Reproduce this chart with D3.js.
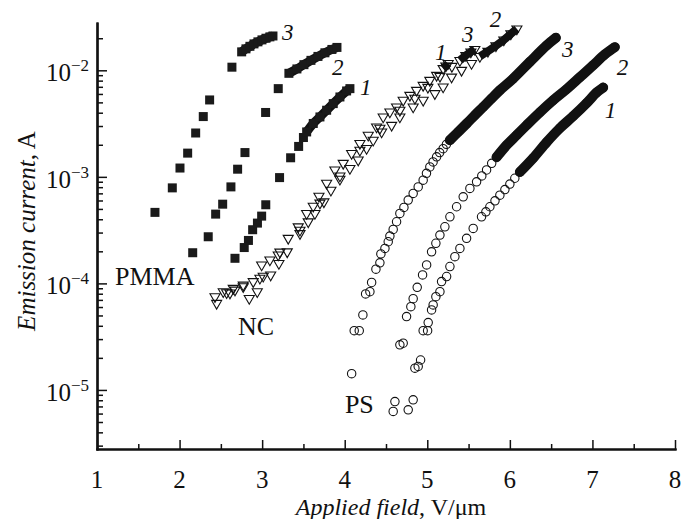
<!DOCTYPE html>
<html><head><meta charset="utf-8">
<script src="https://cdn.jsdelivr.net/npm/d3@7"></script>
<style>body{margin:0;background:#fff}svg{display:block}</style>
</head><body>
<svg id="c" width="681" height="519"></svg>
<script>
// ---------- data ----------
const xTickValues = [1,2,3,4,5,6,7,8];
const xMinorValues = [1.5,2.5,3.5,4.5,5.5,6.5,7.5];
const yMajorValues = [1e-5,1e-4,1e-3,1e-2];
const yExponents = ["5","4","3","2"];
const xTitle = ["Applied field", ", V/\u03bcm"];
const yTitle = ["Emission current", ", A"];

// PMMA (filled squares)
const pmma3Pts = [[1.702,4.64e-4],[1.912,7.88e-4],[2.005,1.21e-3],[2.098,1.67e-3],[2.195,2.58e-3],[2.287,3.68e-3],[2.364,5.27e-3],[2.634,1.07e-2]];
const pmma3Band = [[2.752,1.49e-2],[2.804,1.59e-2],[2.852,1.68e-2],[2.901,1.77e-2],[2.949,1.85e-2],[2.998,1.93e-2],[3.046,2.00e-2],[3.094,2.06e-2],[3.131,2.10e-2]];
const pmma2Pts = [[2.159,1.94e-4],[2.347,2.74e-4],[2.437,4.47e-4],[2.522,5.54e-4],[2.622,8.05e-4],[2.703,1.18e-3],[2.792,1.69e-3],[3.042,4.02e-3],[3.195,6.73e-3]];
const pmma2Band = [[3.324,9.37e-3],[3.421,1.03e-2],[3.506,1.13e-2],[3.591,1.24e-2],[3.676,1.35e-2],[3.760,1.46e-2],[3.845,1.57e-2],[3.906,1.64e-2]];
const pmma1Pts = [[2.671,1.72e-4],[2.783,2.17e-4],[2.834,2.53e-4],[2.885,3.19e-4],[2.943,3.68e-4],[2.994,4.28e-4],[3.044,5.47e-4],[3.211,9.84e-4],[3.345,1.51e-3],[3.442,1.93e-3],[3.500,2.34e-3]];
const pmma1Band = [[3.539,2.64e-3],[3.619,3.17e-3],[3.700,3.65e-3],[3.781,4.22e-3],[3.861,4.87e-3],[3.942,5.62e-3],[4.023,6.40e-3],[4.063,6.73e-3]];

// NC (open down-triangles)
const nc1Pts = [[2.429,7.50e-5],[2.529,8.36e-5],[2.650,8.99e-5],[2.771,9.66e-5],[2.892,1.04e-4],[2.994,1.49e-4],[3.094,1.66e-4],[3.195,1.85e-4],[3.316,2.65e-4],[3.437,3.40e-4],[3.539,4.54e-4],[3.619,5.31e-4],[3.688,6.59e-4],[3.781,8.73e-4],[3.881,1.16e-3],[3.982,1.34e-3],[4.084,1.66e-3],[4.184,2.06e-3],[4.285,2.46e-3],[4.386,2.94e-3],[4.466,3.65e-3],[4.547,4.07e-3],[4.628,4.53e-3],[4.708,5.24e-3],[4.789,5.83e-3],[4.870,6.50e-3],[4.950,7.23e-3],[5.031,8.06e-3],[5.113,8.98e-3]];
const nc1Band = [[5.192,1.04e-2],[5.225,1.10e-2],[5.253,1.16e-2]];
const nc2Pts = [[2.449,6.50e-5],[2.570,8.18e-5],[2.671,8.67e-5],[2.771,9.31e-5],[2.844,7.24e-5],[2.941,8.36e-5],[3.013,1.17e-4],[3.103,1.20e-4],[3.203,1.54e-4],[3.304,1.98e-4],[3.458,2.94e-4],[3.558,3.79e-4],[3.639,4.54e-4],[3.748,5.83e-4],[3.833,7.50e-4],[3.942,9.51e-4],[4.063,1.20e-3],[4.163,1.44e-3],[4.265,1.85e-3],[4.345,2.21e-3],[4.447,2.64e-3],[4.568,3.05e-3],[4.668,3.65e-3],[4.829,4.53e-3],[4.950,5.24e-3],[5.092,6.05e-3],[5.192,6.98e-3],[5.294,8.65e-3],[5.415,1.00e-2],[5.536,1.16e-2]];
const nc2Band = [[5.637,1.35e-2],[5.734,1.51e-2],[5.831,1.70e-2],[5.927,1.93e-2],[6.012,2.20e-2],[6.085,2.45e-2]];
const nc3Pts = [[2.610,8.13e-5],[2.973,1.12e-4],[3.215,1.97e-4],[3.458,3.16e-4],[3.700,5.68e-4],[3.942,1.02e-3],[4.184,1.78e-3],[4.426,2.86e-3],[4.668,4.22e-3],[4.850,5.47e-3],[5.007,6.93e-3],[5.153,8.79e-3],[5.298,1.09e-2]];
const nc3Band = [[5.395,1.24e-2],[5.467,1.38e-2],[5.528,1.49e-2],[5.576,1.57e-2]];

// PS (open circles)
const ps3Pts = [[4.084,1.42e-5],[4.115,3.60e-5],[4.176,3.60e-5],[4.220,5.06e-5],[4.253,7.96e-5],[4.305,8.36e-5],[4.326,1.02e-4],[4.378,1.36e-4],[4.426,1.56e-4],[4.438,1.89e-4],[4.487,2.13e-4],[4.527,2.46e-4],[4.547,2.78e-4],[4.587,3.21e-4],[4.628,3.79e-4],[4.668,4.54e-4],[4.717,5.16e-4],[4.769,6.05e-4],[4.829,6.99e-4],[4.890,8.05e-4],[4.950,9.31e-4],[4.990,1.08e-3],[5.031,1.24e-3],[5.070,1.38e-3],[5.113,1.54e-3],[5.150,1.69e-3],[5.192,1.84e-3],[5.232,2.02e-3]];
const ps3Band = [[5.274,2.21e-3],[5.374,2.64e-3],[5.476,3.16e-3],[5.576,3.79e-3],[5.677,4.53e-3],[5.778,5.43e-3],[5.879,6.50e-3],[6.040,8.36e-3],[6.242,1.20e-2],[6.444,1.71e-2],[6.557,2.02e-2]];
const ps2Pts = [[4.608,7.78e-6],[4.587,6.28e-6],[4.668,2.65e-5],[4.708,2.75e-5],[4.749,4.88e-5],[4.801,6.05e-5],[4.829,7.19e-5],[4.878,9.19e-5],[4.943,1.20e-4],[4.992,1.49e-4],[5.052,1.98e-4],[5.104,2.38e-4],[5.153,2.84e-4],[5.213,3.40e-4],[5.274,4.22e-4],[5.355,5.24e-4],[5.435,6.50e-4],[5.516,7.79e-4],[5.597,8.98e-4],[5.660,1.02e-3],[5.718,1.16e-3],[5.780,1.34e-3]];
const ps2Band = [[5.839,1.53e-3],[5.960,1.98e-3],[6.081,2.46e-3],[6.202,3.05e-3],[6.363,4.03e-3],[6.524,5.23e-3],[6.686,6.64e-3],[6.847,8.60e-3],[7.005,1.11e-2],[7.150,1.41e-2],[7.271,1.65e-2]];
const ps1Pts = [[4.829,8.07e-6],[4.769,6.50e-6],[4.850,1.60e-5],[4.890,1.66e-5],[4.919,1.91e-5],[4.950,3.60e-5],[5.004,3.60e-5],[5.011,4.29e-5],[5.052,5.64e-5],[5.071,6.28e-5],[5.104,7.51e-5],[5.153,8.36e-5],[5.173,1.04e-4],[5.234,1.16e-4],[5.274,1.44e-4],[5.334,1.78e-4],[5.395,2.13e-4],[5.476,2.65e-4],[5.556,3.28e-4],[5.657,4.22e-4],[5.710,4.70e-4],[5.758,5.24e-4],[5.820,5.95e-4],[5.879,6.73e-4],[5.940,7.60e-4],[6.000,8.55e-4],[6.060,9.70e-4]];
const ps1Band = [[6.121,1.11e-3],[6.282,1.50e-3],[6.444,2.11e-3],[6.605,2.86e-3],[6.766,3.71e-3],[6.928,4.91e-3],[7.053,6.22e-3],[7.130,6.89e-3]];

// annotations (text, x value, y value of baseline start)
const curveLabels = [["3",3.240,1.91e-2],["2",3.845,8.98e-3],["1",4.184,5.83e-3],
  ["1",5.092,1.24e-2],["3",5.419,1.83e-2],["2",5.758,2.53e-2],
  ["3",6.630,1.32e-2],["2",7.295,8.98e-3],["1",7.150,3.55e-3]];
const groupLabels = [["PMMA",1.218,9.66e-5],["NC",2.707,3.28e-5],["PS",4.002,6.10e-6]];

// ---------- drawing ----------
const svg = d3.select("#c");
const FONT = "'Liberation Serif','Times New Roman',serif";
const x = d3.scaleLinear().domain([1,8]).range([97,675]);
const y = d3.scaleLog().domain([2.79e-6,0.0278]).range([449,23]);

const yMinorValues = [];
[1e-6,1e-5,1e-4,1e-3,1e-2].forEach(d => { for (let k=2;k<=9;k++){ const v=k*d; if (v>=y.domain()[0] && v<=y.domain()[1]) yMinorValues.push(v);} });

// axes
const gx = svg.append("g").attr("transform","translate(0,449)");
gx.call(d3.axisBottom(x).tickValues(xMinorValues).tickSizeInner(-5).tickSizeOuter(0).tickFormat(""));
const gx2 = svg.append("g").attr("transform","translate(0,449)");
gx2.call(d3.axisBottom(x).tickValues(xTickValues).tickSizeInner(-9).tickSizeOuter(0).tickFormat(""));
const gy = svg.append("g").attr("transform","translate(97,0)");
gy.call(d3.axisLeft(y).tickValues(yMinorValues).tickSizeInner(-6).tickSizeOuter(0).tickFormat(""));
const gy2 = svg.append("g").attr("transform","translate(97,0)");
gy2.call(d3.axisLeft(y).tickValues(yMajorValues).tickSizeInner(-10).tickSizeOuter(0).tickFormat(""));
svg.selectAll(".domain").attr("stroke","#111").attr("stroke-width",2.2).attr("stroke-linecap","square");
svg.selectAll(".tick line").attr("stroke","#111").attr("stroke-width",1.5);

// tick labels
svg.append("g").selectAll("text").data(xTickValues).join("text")
  .attr("x",d=>x(d)).attr("y",488).attr("text-anchor","middle")
  .attr("font-family",FONT).attr("font-size",25).attr("fill","#111").text(d=>d);
const yl = svg.append("g").selectAll("text").data(yMajorValues).join("text")
  .attr("x",89).attr("y",d=>y(d)+11).attr("text-anchor","end")
  .attr("font-family",FONT).attr("font-size",25).attr("fill","#111");
yl.append("tspan").text("10");
yl.append("tspan").attr("font-size",17).attr("dy",-10).text((d,i)=>"\u2212"+yExponents[i]);

// axis titles
const xt = svg.append("text").attr("x",391).attr("y",515).attr("text-anchor","middle")
  .attr("font-family",FONT).attr("font-size",24).attr("fill","#111");
xt.append("tspan").attr("font-style","italic").text(xTitle[0]);
xt.append("tspan").text(xTitle[1]);
const yt = svg.append("text").attr("transform","translate(35,231) rotate(-90)").attr("text-anchor","middle")
  .attr("font-family",FONT).attr("font-size",25).attr("fill","#111");
yt.append("tspan").attr("font-style","italic").text(yTitle[0]);
yt.append("tspan").text(yTitle[1]);

// series
const series = [
  {pts:pmma3Pts, band:pmma3Band, m:"sq"},{pts:pmma2Pts, band:pmma2Band, m:"sq"},{pts:pmma1Pts, band:pmma1Band, m:"sq"},
  {pts:nc1Pts, band:nc1Band, m:"tri"},{pts:nc2Pts, band:nc2Band, m:"tri"},{pts:nc3Pts, band:nc3Band, m:"tri"},
  {pts:ps3Pts, band:ps3Band, m:"ci"},{pts:ps2Pts, band:ps2Band, m:"ci"},{pts:ps1Pts, band:ps1Band, m:"ci"}
];
const line = d3.line().x(d=>x(d[0])).y(d=>y(d[1])).curve(d3.curveCatmullRom);
const plot = svg.append("g");
const triPath = d3.symbol().type(d3.symbolTriangle).size(44)();
series.forEach(s => {
  const all = s.pts.concat(s.band);
  const g = plot.append("g");
  if (s.m === "sq") {
    g.append("path").attr("d", line(s.band)).attr("fill","none").attr("stroke","#111")
      .attr("stroke-width",9).attr("stroke-linecap","butt");
    g.selectAll("rect").data(all).join("rect")
      .attr("x",d=>x(d[0])-4.5).attr("y",d=>y(d[1])-4.5).attr("width",9).attr("height",9).attr("fill","#1a1a1a");
  } else if (s.m === "tri") {
    g.selectAll("path.m").data(all).join("path").attr("class","m").attr("d",triPath)
      .attr("transform",d=>`translate(${x(d[0])},${y(d[1])}) rotate(180)`)
      .attr("fill","#fff").attr("fill-opacity",0).attr("stroke","#111").attr("stroke-width",1.1);
    g.append("path").attr("d", line(s.band)).attr("fill","none").attr("stroke","#111")
      .attr("stroke-width",8).attr("stroke-linecap","butt");
  } else {
    g.selectAll("circle").data(all).join("circle")
      .attr("cx",d=>x(d[0])).attr("cy",d=>y(d[1])).attr("r",4.2)
      .attr("fill","none").attr("stroke","#111").attr("stroke-width",1.1);
    g.append("path").attr("d", line(s.band)).attr("fill","none").attr("stroke","#111")
      .attr("stroke-width",10).attr("stroke-linecap","round");
  }
});

// labels
svg.append("g").selectAll("text").data(curveLabels).join("text")
  .attr("x",d=>x(d[1])).attr("y",d=>y(d[2])).attr("font-family",FONT).attr("font-style","italic")
  .attr("font-size",23).attr("fill","#111").text(d=>d[0]);
svg.append("g").selectAll("text").data(groupLabels).join("text")
  .attr("x",d=>x(d[1])).attr("y",d=>y(d[2])).attr("font-family",FONT)
  .attr("font-size",26).attr("fill","#111").text(d=>d[0]);
</script>
</body></html>
